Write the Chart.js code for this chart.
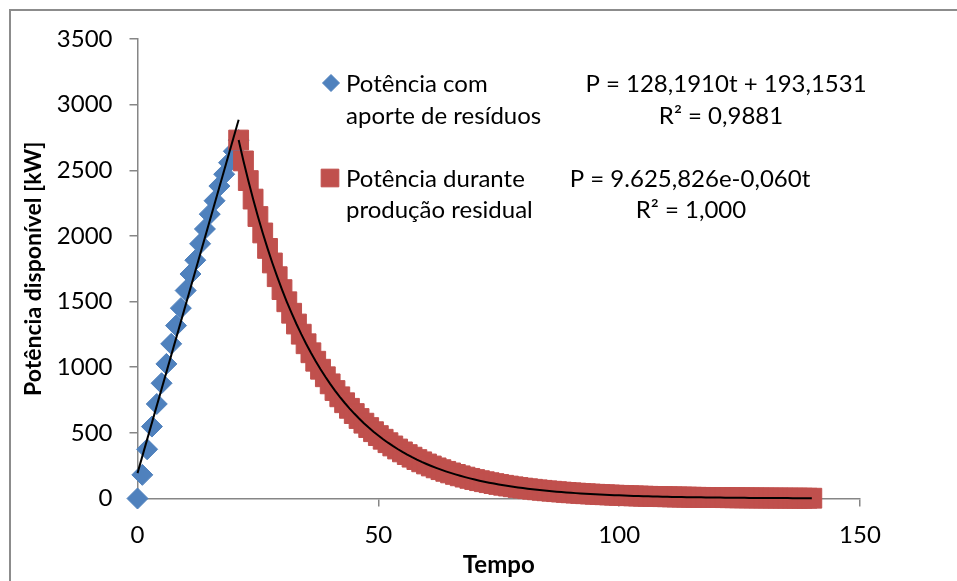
<!DOCTYPE html>
<html>
<head>
<meta charset="utf-8">
<title>Potência disponível</title>
<script src="https://cdn.jsdelivr.net/npm/chart.js@4.4.1/dist/chart.umd.min.js"></script>
<style>
  html, body { margin: 0; padding: 0; background: #fff; }
  #wrap { position: relative; width: 957px; height: 581px; }
</style>
</head>
<body>
<div id="wrap"><canvas id="grafico"></canvas></div>
<script>
"use strict"

// potência com aporte de resíduos, t = 0 .. 21
const potenciaAporte = [0, 180, 375, 548, 720, 878, 1025, 1178, 1317, 1450, 1584,
    1710, 1815, 1940, 2053, 2166, 2268, 2380, 2470, 2558, 2645, 2730];

// potência durante produção residual, t = 21 .. 140
const inicioResidual = 21;
const potenciaResidual = [
    2730.4, 2571.4, 2421.6, 2280.6, 2147.8, 2022.7, 1904.9, 1794.0, 1689.5, 1591.1,
    1498.5, 1411.2, 1329.0, 1251.6, 1178.7, 1110.1, 1045.5, 984.6, 927.2, 873.2,
    822.4, 774.5, 729.4, 686.9, 646.9, 609.2, 573.8, 540.3, 508.9, 479.2,
    451.3, 425.1, 400.3, 377.0, 355.0, 334.4, 314.9, 296.5, 279.3, 263.0,
    247.7, 233.3, 219.7, 206.9, 194.9, 183.5, 172.8, 162.8, 153.3, 144.4,
    135.9, 128.0, 120.6, 113.6, 106.9, 100.7, 94.9, 89.3, 84.1, 79.2,
    74.6, 70.3, 66.2, 62.3, 58.7, 55.3, 52.1, 49.0, 46.2, 43.5,
    41.0, 38.6, 36.3, 34.2, 32.2, 30.3, 28.6, 26.9, 25.3, 23.9,
    22.5, 21.2, 19.9, 18.8, 17.7, 16.7, 15.7, 14.8, 13.9, 13.1,
    12.3, 11.6, 10.9, 10.3, 9.7, 9.1, 8.6, 8.1, 7.6, 7.2,
    6.8, 6.4, 6.0, 5.7, 5.3, 5.0, 4.7, 4.5, 4.2, 3.9,
    3.7, 3.5, 3.3, 3.1, 2.9, 2.8, 2.6, 2.4, 2.3, 2.2
];

// linhas de tendência (coeficientes das equações)
const linInclinacao = 128.1910;
const linIntercepto = 193.1531;
const expCoef = 9625.826;
const expTaxa = -0.060;

const ticksX = [0, 50, 100, 150];
const ticksY = [0, 500, 1000, 1500, 2000, 2500, 3000, 3500];

const legendaTextos = [
    ['Potência com', 'aporte de resíduos'],
    ['Potência durante', 'produção residual']
];
const equacoes = [
    ['P = 128,1910t + 193,1531', 'R² = 0,9881'],
    ['P = 9.625,826e-0,060t', 'R² = 1,000']
];

const azul = '#4F81BD';
const vermelho = '#C0504D';
const cinza = '#868686';
const fonte = 'Lato';
const tamanho = 24;

const pontosAporte = potenciaAporte.map((p, i) => ({x: i, y: p}));
const pontosResidual = potenciaResidual.map((p, i) => ({x: inicioResidual + i, y: p}));

const tFimAporte = pontosAporte[pontosAporte.length - 1].x;
const tendLinear = [0, tFimAporte].map(t => ({x: t, y: linInclinacao * t + linIntercepto}));
const tendExp = pontosResidual.map(pt => ({x: pt.x, y: expCoef * Math.exp(expTaxa * pt.x)}));

Chart.defaults.font.family = fonte;
Chart.defaults.font.size = tamanho;
Chart.defaults.color = '#000';

const moldura = {
    id: 'moldura',
    beforeDraw(chart) {
        const ctx = chart.ctx;
        ctx.save();
        ctx.fillStyle = '#fff';
        ctx.fillRect(0, 0, chart.width, chart.height);
        ctx.strokeStyle = '#8c8c8c';
        ctx.lineWidth = 2;
        ctx.strokeRect(10, 10, chart.width + 20, chart.height + 20);
        ctx.restore();
    }
};

const legenda = {
    id: 'legenda',
    afterDraw(chart) {
        const ctx = chart.ctx;
        ctx.save();
        ctx.font = tamanho + 'px ' + fonte;
        ctx.fillStyle = '#000';
        ctx.textBaseline = 'middle';

        ctx.textAlign = 'left';
        ctx.fillText(legendaTextos[0][0], 346, 84);
        ctx.fillText(legendaTextos[0][1], 346, 116);
        ctx.fillText(legendaTextos[1][0], 346, 179);
        ctx.fillText(legendaTextos[1][1], 346, 210);

        ctx.textAlign = 'center';
        ctx.fillText(equacoes[0][0], 726, 84);
        ctx.fillText(equacoes[0][1], 721, 116);
        ctx.fillText(equacoes[1][0], 690, 179);
        ctx.fillText(equacoes[1][1], 691, 210);

        ctx.fillStyle = azul;
        ctx.strokeStyle = azul;
        Chart.helpers.drawPoint(ctx, {pointStyle: 'rectRot', radius: 8.5, borderWidth: 1, rotation: 0}, 331, 83);
        ctx.fillStyle = vermelho;
        ctx.strokeStyle = vermelho;
        Chart.helpers.drawPoint(ctx, {pointStyle: 'rect', radius: 12.5, borderWidth: 1, rotation: 0}, 330, 178);
        ctx.restore();
    }
};

new Chart(document.getElementById('grafico'), {
    type: 'scatter',
    data: {
        datasets: [
            {
                label: 'tendência linear',
                data: tendLinear,
                showLine: true,
                borderColor: '#000',
                borderWidth: 2,
                pointRadius: 0,
                clip: false,
                order: 0
            },
            {
                label: 'tendência exponencial',
                data: tendExp,
                showLine: true,
                borderColor: '#000',
                borderWidth: 2,
                pointRadius: 0,
                tension: 0,
                clip: false,
                order: 0
            },
            {
                label: 'Potência durante produção residual',
                data: pontosResidual,
                pointStyle: 'rect',
                pointRadius: 14,
                backgroundColor: vermelho,
                borderColor: vermelho,
                borderWidth: 1,
                clip: false,
                order: 1
            },
            {
                label: 'Potência com aporte de resíduos',
                data: pontosAporte,
                pointStyle: 'rectRot',
                pointRadius: 10.5,
                backgroundColor: azul,
                borderColor: azul,
                borderWidth: 1,
                clip: false,
                order: 2
            }
        ]
    },
    options: {
        responsive: true,
        maintainAspectRatio: false,
        animation: false,
        devicePixelRatio: 1,
        layout: { padding: { top: 39, right: 97, left: 0, bottom: 0 } },
        plugins: {
            legend: { display: false },
            tooltip: { enabled: false }
        },
        scales: {
            x: {
                type: 'linear',
                min: 0,
                max: 150,
                afterBuildTicks: s => { s.ticks = ticksX.map(v => ({value: v})); },
                afterFit: s => { s.height = 82.5; },
                grid: { drawOnChartArea: false, color: cinza, tickLength: 8, lineWidth: 1.5 },
                border: { color: cinza, width: 1.5 },
                ticks: { padding: 14, color: '#000', callback: v => String(v) },
                title: {
                    display: true,
                    text: 'Tempo',
                    color: '#000',
                    font: { weight: 'bold', size: tamanho },
                    padding: { top: 0, bottom: 1 }
                }
            },
            y: {
                min: 0,
                max: 3500,
                afterBuildTicks: s => { s.ticks = ticksY.map(v => ({value: v})); },
                afterFit: s => { s.width = 137.5; },
                grid: { drawOnChartArea: false, color: cinza, tickLength: 8, lineWidth: 1.5 },
                border: { color: cinza, width: 1.5 },
                ticks: { padding: 17, color: '#000', callback: v => String(v) },
                title: {
                    display: true,
                    text: 'Potência disponível [kW]',
                    color: '#000',
                    font: { weight: 'bold', size: 23 },
                    padding: { top: 20, bottom: 0 }
                }
            }
        }
    },
    plugins: [moldura, legenda]
});
</script>
</body>
</html>
